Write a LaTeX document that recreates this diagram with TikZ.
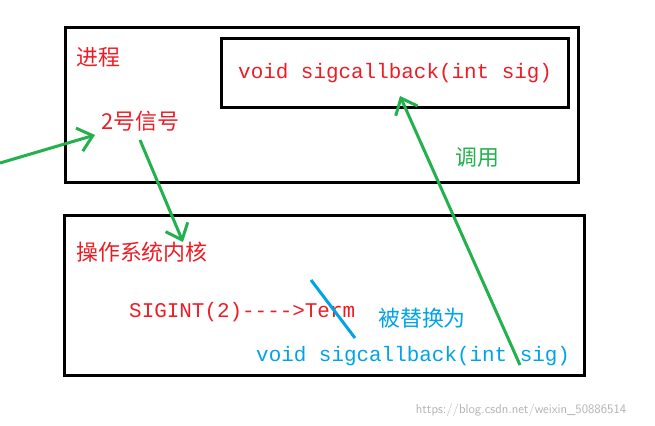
\documentclass[tikz,border=0pt]{standalone}
\usepackage{fontspec}
\setmainfont{Noto Sans CJK SC}
\newfontfamily\codefont{Liberation Mono}
\usetikzlibrary{arrows.meta}
\definecolor{gr}{RGB}{34,177,76}
\definecolor{rd}{RGB}{237,28,36}
\definecolor{bl}{RGB}{0,162,232}
\tikzset{box/.style={draw=black,line width=3bp},
 txt/.style={inner sep=0,anchor=west,font=\fontsize{22}{24}\selectfont},
 code/.style={inner sep=0,anchor=west,font=\codefont\fontsize{21}{23}\selectfont},
 garrow/.style={draw=gr,line width=3bp,-{Straight Barb[length=14bp,width=24bp]}}}
\begin{document}
\begin{tikzpicture}[x=1bp,y=-1bp]
\useasboundingbox (0,0) rectangle (655,425);
\draw[box] (65,27) rectangle (578,182);
\draw[box] (221,38) rectangle (568,107);
\draw[box] (64,215) rectangle (584,375);
\node[txt,text=rd] (proc) at (76,57) {进程};
\node[code,text=rd] (cb) at (238,73) {void sigcallback(int sig)};
\node[txt,text=rd] (sig) at (101,121) {2号信号};
\node[txt,text=gr] (call) at (455,157) {调用};
\node[txt,text=rd] (os) at (76,252) {操作系统内核};
\node[code,text=rd] (term) at (129,312) {SIGINT(2)---->Term};
\node[txt,text=bl] (rep) at (378,318) {被替换为};
\node[code,text=bl] (cb2) at (256,356) {void sigcallback(int sig)};
\node[inner sep=0,text=gray!60,font=\fontsize{13}{14}\selectfont\sffamily] (wm) at (521,410) {https://blog.csdn.net/weixin\_50886514};
\coordinate (s1) at (0,163);
\coordinate (s2) at (520,365);
\draw[garrow] (s1) -- (95,135);
\draw[garrow] (140,140) -- (183,242);
\draw[garrow] (s2) -- (400,96);
\draw[bl,line width=3bp] (311,280) -- (355,338);
\end{tikzpicture}
\end{document}
